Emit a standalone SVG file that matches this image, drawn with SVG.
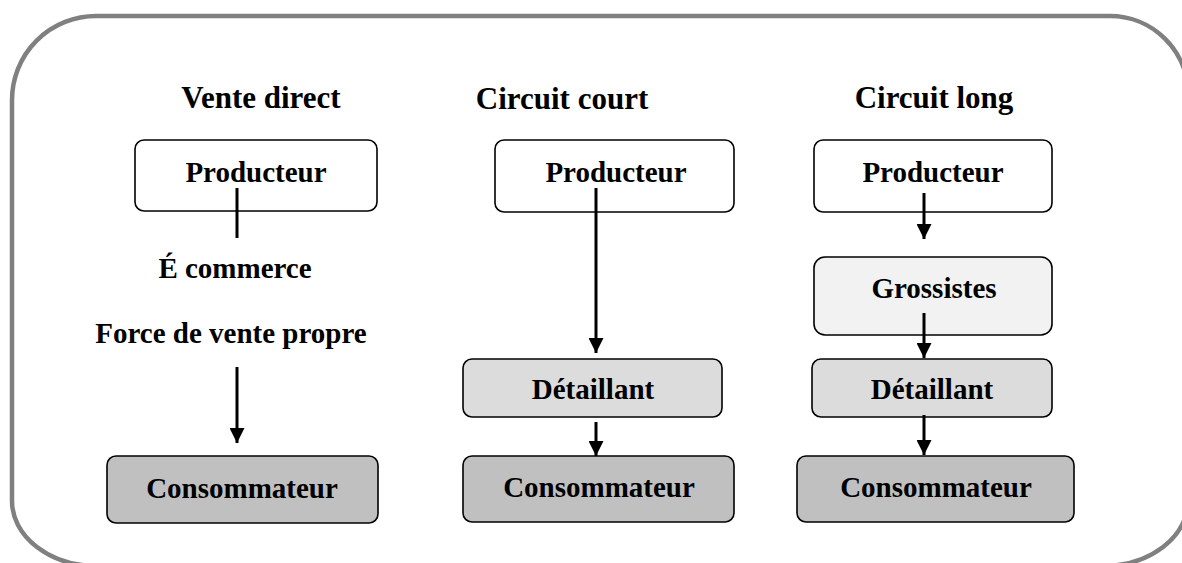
<svg xmlns="http://www.w3.org/2000/svg" width="1182" height="563" viewBox="0 0 1182 563">
<defs>
<style>
text{font-family:"Liberation Serif","Times New Roman",serif;font-weight:bold;fill:#000;text-anchor:middle}
.t{font-size:31px}
.n{font-size:29px}
.box{stroke:#000;stroke-width:1.6}
.wh{fill:#fff}
.g1{fill:#f2f2f2}
.g2{fill:#dcdcdc}
.g3{fill:#c0c0c0}
.ln{stroke:#000;stroke-width:3;fill:none}
</style>
<marker id="ah" viewBox="0 0 10 10" refX="10" refY="5" markerWidth="5" markerHeight="5" markerUnits="strokeWidth" orient="auto">
<path d="M0,0 L10,5 L0,10 Z" fill="#000"/>
</marker>
</defs>
<rect width="1182" height="563" fill="#fff"/>
<path id="frame" d="M 96,16 H 1110 A 78 78 0 0 1 1188 94 V 501 A 85 65 0 0 1 1103 566 H 97 A 85 65 0 0 1 12 501 V 100 A 84 84 0 0 1 96 16 Z" fill="none" stroke="#808080" stroke-width="4.5"/>
<g id="titles">
<text class="t" x="261" y="108">Vente direct</text>
<text class="t" x="562" y="109">Circuit court</text>
<text class="t" x="934" y="108">Circuit long</text>
</g>
<g id="prod1"><rect class="box wh" x="135" y="140" width="242" height="71" rx="9"/><text class="n" x="256" y="182">Producteur</text></g>
<g id="labels1">
<text class="n" x="235" y="278">É commerce</text>
<text class="n" x="231" y="343">Force de vente propre</text>
</g>
<g id="cons1"><rect class="box g3" x="107" y="456" width="271" height="67" rx="9"/><text class="n" x="242" y="498">Consommateur</text></g>
<g id="prod2"><rect class="box wh" x="495" y="140" width="239" height="72" rx="9"/><text class="n" x="616" y="182">Producteur</text></g>
<g id="det2"><rect class="box g2" x="463" y="359" width="259" height="58" rx="9"/><text class="n" x="593" y="399">Détaillant</text></g>
<g id="cons2"><rect class="box g3" x="463" y="456" width="271" height="66" rx="9"/><text class="n" x="599" y="497">Consommateur</text></g>
<g id="prod3"><rect class="box wh" x="814" y="140" width="238" height="72" rx="9"/><text class="n" x="933" y="182">Producteur</text></g>
<g id="gros3"><rect class="box g1" x="814" y="257" width="238" height="78" rx="11"/><text class="n" x="934" y="298">Grossistes</text></g>
<g id="det3"><rect class="box g2" x="812" y="359" width="240" height="58" rx="9"/><text class="n" x="932" y="399">Détaillant</text></g>
<g id="cons3"><rect class="box g3" x="797" y="456" width="277" height="66" rx="9"/><text class="n" x="936" y="497">Consommateur</text></g>
<g id="connectors">
<line class="ln" x1="237" y1="188" x2="237" y2="238"/>
<line class="ln" x1="237" y1="367" x2="237" y2="443" marker-end="url(#ah)"/>
<line class="ln" x1="596" y1="188" x2="596" y2="353" marker-end="url(#ah)"/>
<line class="ln" x1="596" y1="422" x2="596" y2="456" marker-end="url(#ah)"/>
<line class="ln" x1="924" y1="193" x2="924" y2="239" marker-end="url(#ah)"/>
<line class="ln" x1="924" y1="313" x2="924" y2="358" marker-end="url(#ah)"/>
<line class="ln" x1="924" y1="415" x2="924" y2="455" marker-end="url(#ah)"/>
</g>
</svg>
